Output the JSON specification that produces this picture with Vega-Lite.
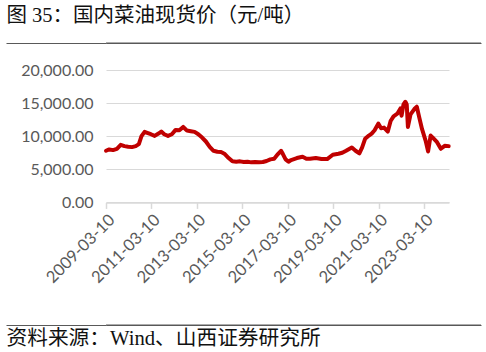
{
  "$schema": "https://vega.github.io/schema/vega-lite/v6.json",
  "padding": 5,
  "spacing": 18,
  "columns": 1,
  "bounds": "full",
  "background": "white",
  "config": {"view": {"stroke": null}},
  "datasets": {
    "price": [
      {"date": "2009-03-10", "price": 7800},
      {"date": "2009-05-01", "price": 8000},
      {"date": "2009-07-01", "price": 7900},
      {"date": "2009-09-01", "price": 8100},
      {"date": "2009-11-01", "price": 8700},
      {"date": "2010-01-01", "price": 8500},
      {"date": "2010-03-01", "price": 8400},
      {"date": "2010-05-01", "price": 8350},
      {"date": "2010-07-01", "price": 8500},
      {"date": "2010-08-20", "price": 8800},
      {"date": "2010-10-01", "price": 10000},
      {"date": "2010-11-20", "price": 10650},
      {"date": "2011-01-01", "price": 10500},
      {"date": "2011-03-01", "price": 10300},
      {"date": "2011-05-01", "price": 10050},
      {"date": "2011-07-01", "price": 10400},
      {"date": "2011-08-15", "price": 10700},
      {"date": "2011-10-01", "price": 10300},
      {"date": "2011-12-01", "price": 10050},
      {"date": "2012-02-01", "price": 10300},
      {"date": "2012-04-01", "price": 10950},
      {"date": "2012-06-01", "price": 10900},
      {"date": "2012-08-01", "price": 11400},
      {"date": "2012-10-01", "price": 10850},
      {"date": "2012-12-01", "price": 10750},
      {"date": "2013-02-01", "price": 10650},
      {"date": "2013-04-01", "price": 10300},
      {"date": "2013-06-01", "price": 9800},
      {"date": "2013-08-01", "price": 9200},
      {"date": "2013-10-01", "price": 8400},
      {"date": "2013-12-01", "price": 7800},
      {"date": "2014-02-01", "price": 7650},
      {"date": "2014-04-01", "price": 7600},
      {"date": "2014-06-01", "price": 7300},
      {"date": "2014-08-01", "price": 6700},
      {"date": "2014-10-01", "price": 6200},
      {"date": "2014-12-01", "price": 6150},
      {"date": "2015-02-01", "price": 6200},
      {"date": "2015-04-01", "price": 6100},
      {"date": "2015-06-01", "price": 6150},
      {"date": "2015-08-01", "price": 6050},
      {"date": "2015-10-01", "price": 6100},
      {"date": "2015-12-01", "price": 6050},
      {"date": "2016-02-01", "price": 6100},
      {"date": "2016-04-01", "price": 6250},
      {"date": "2016-06-01", "price": 6500},
      {"date": "2016-08-01", "price": 6600},
      {"date": "2016-10-01", "price": 7300},
      {"date": "2016-11-20", "price": 7800},
      {"date": "2016-12-20", "price": 7300},
      {"date": "2017-02-01", "price": 6500},
      {"date": "2017-03-20", "price": 6150},
      {"date": "2017-05-01", "price": 6400},
      {"date": "2017-08-01", "price": 6700},
      {"date": "2017-11-01", "price": 6900},
      {"date": "2018-01-01", "price": 6600},
      {"date": "2018-03-01", "price": 6600},
      {"date": "2018-06-01", "price": 6700},
      {"date": "2018-09-01", "price": 6550},
      {"date": "2018-12-01", "price": 6550},
      {"date": "2019-03-01", "price": 7200},
      {"date": "2019-06-01", "price": 7350},
      {"date": "2019-08-01", "price": 7500},
      {"date": "2019-10-01", "price": 7800},
      {"date": "2020-01-01", "price": 8300},
      {"date": "2020-03-01", "price": 7800},
      {"date": "2020-05-01", "price": 7400},
      {"date": "2020-06-15", "price": 8300},
      {"date": "2020-08-01", "price": 9600},
      {"date": "2020-10-01", "price": 10100},
      {"date": "2020-11-15", "price": 10400},
      {"date": "2021-01-01", "price": 10900},
      {"date": "2021-03-01", "price": 11900},
      {"date": "2021-04-15", "price": 11200},
      {"date": "2021-06-01", "price": 11300},
      {"date": "2021-08-01", "price": 10700},
      {"date": "2021-09-15", "price": 12300},
      {"date": "2021-11-01", "price": 13000},
      {"date": "2022-01-01", "price": 13400},
      {"date": "2022-02-20", "price": 14200},
      {"date": "2022-03-10", "price": 13100},
      {"date": "2022-04-10", "price": 14800},
      {"date": "2022-05-10", "price": 15200},
      {"date": "2022-06-01", "price": 14800},
      {"date": "2022-06-20", "price": 11400},
      {"date": "2022-08-01", "price": 13300},
      {"date": "2022-10-01", "price": 14100},
      {"date": "2022-11-10", "price": 14450},
      {"date": "2022-12-20", "price": 12800},
      {"date": "2023-02-01", "price": 11100},
      {"date": "2023-04-01", "price": 9300},
      {"date": "2023-05-10", "price": 7700},
      {"date": "2023-06-20", "price": 10100},
      {"date": "2023-08-01", "price": 9700},
      {"date": "2023-10-01", "price": 9100},
      {"date": "2023-12-01", "price": 8100},
      {"date": "2024-02-01", "price": 8550},
      {"date": "2024-04-05", "price": 8500}
    ]
  },
  "concat": [
    {
      "width": 375,
      "height": 10,
      "title": {
        "text": "图 35：国内菜油现货价（元/吨）",
        "anchor": "start",
        "frame": "bounds",
        "font": "Liberation Serif, 'Noto Sans CJK SC'",
        "fontSize": 20.5,
        "fontWeight": "normal",
        "color": "#111111",
        "offset": 7,
        "dx": 1
      },
      "data": {"values": [{"v": 0}]},
      "mark": {"type": "rule", "color": "#595959", "strokeWidth": 1},
      "encoding": {
        "y": {
          "field": "v",
          "type": "quantitative",
          "scale": {"domain": [0, 1]},
          "axis": {
            "title": null,
            "values": [0],
            "labels": false,
            "domain": false,
            "ticks": true,
            "tickSize": 100,
            "tickColor": "#595959",
            "tickWidth": 1,
            "grid": true,
            "gridColor": "#595959",
            "gridWidth": 1
          }
        }
      }
    },
    {
      "width": 343,
      "height": 132.4,
      "data": {"name": "price"},
      "mark": {"type": "line", "color": "#C00000", "strokeWidth": 4, "strokeJoin": "round", "strokeCap": "round"},
      "encoding": {
        "x": {
          "field": "date",
          "type": "temporal",
          "scale": {"type": "utc", "domain": ["2009-03-10", "2024-04-10"]},
          "axis": {
            "title": null,
            "values": [
              {"year": 2009, "month": 3, "date": 10, "utc": true},
              {"year": 2011, "month": 3, "date": 10, "utc": true},
              {"year": 2013, "month": 3, "date": 10, "utc": true},
              {"year": 2015, "month": 3, "date": 10, "utc": true},
              {"year": 2017, "month": 3, "date": 10, "utc": true},
              {"year": 2019, "month": 3, "date": 10, "utc": true},
              {"year": 2021, "month": 3, "date": 10, "utc": true},
              {"year": 2023, "month": 3, "date": 10, "utc": true}
            ],
            "format": "%Y-%m-%d",
            "labelAngle": -45,
            "labelAlign": "right",
            "labelBaseline": "top",
            "labelFont": "Lato",
            "labelFontSize": 16.5,
            "labelColor": "#595959",
            "labelPadding": 3,
            "labelFlush": false,
            "labelOverlap": false,
            "grid": false,
            "domainColor": "#d9d9d9",
            "domainWidth": 1.5,
            "tickColor": "#d9d9d9",
            "tickWidth": 1.5,
            "tickSize": 6,
            "minExtent": 103
          }
        },
        "y": {
          "field": "price",
          "type": "quantitative",
          "scale": {"domain": [0, 20000], "nice": false},
          "axis": {
            "title": null,
            "values": [0, 5000, 10000, 15000, 20000],
            "format": ",.2f",
            "labelFont": "Lato",
            "labelFontSize": 16,
            "labelColor": "#595959",
            "labelPadding": 13,
            "ticks": false,
            "tickSize": 0,
            "domain": false,
            "gridColor": "#d9d9d9",
            "gridWidth": 1.2
          }
        }
      }
    },
    {
      "width": 375,
      "height": 10,
      "title": {
        "text": "资料来源：Wind、山西证券研究所",
        "orient": "bottom",
        "anchor": "start",
        "frame": "bounds",
        "font": "Liberation Serif, 'Noto Sans CJK SC'",
        "fontSize": 20.7,
        "fontWeight": "normal",
        "color": "#111111",
        "offset": -6.5,
        "dx": 1
      },
      "data": {"values": [{"v": 1}]},
      "mark": {"type": "rule", "color": "#595959", "strokeWidth": 1},
      "encoding": {
        "y": {
          "field": "v",
          "type": "quantitative",
          "scale": {"domain": [0, 1]},
          "axis": {
            "title": null,
            "values": [1],
            "labels": false,
            "domain": false,
            "ticks": true,
            "tickSize": 100,
            "tickColor": "#595959",
            "tickWidth": 1,
            "grid": true,
            "gridColor": "#595959",
            "gridWidth": 1
          }
        }
      }
    }
  ]
}
